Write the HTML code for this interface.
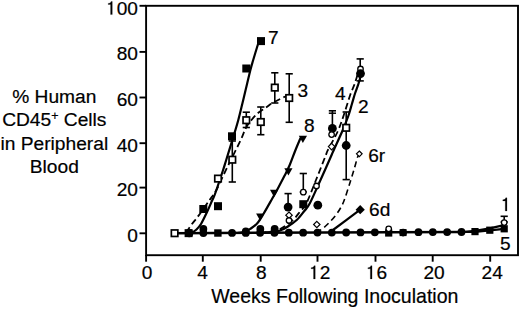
<!DOCTYPE html>
<html><head><meta charset="utf-8"><style>
html,body{margin:0;padding:0;background:#fff;}
svg{display:block;font-family:"Liberation Sans",sans-serif;}
</style></head><body>
<svg width="520" height="309" viewBox="0 0 520 309">
<rect width="520" height="309" fill="#fff"/>
<rect x="146.1" y="5.8" width="371.9" height="249.4" fill="none" stroke="#000" stroke-width="1.9"/>
<line x1="139.5" y1="233.30" x2="146" y2="233.30" stroke="#000" stroke-width="1.9"/>
<text transform="translate(138.00,241.60) scale(1.028,1)" text-anchor="end" font-size="18.6" stroke="#000" stroke-width="0.2">0</text>
<line x1="139.5" y1="187.60" x2="146" y2="187.60" stroke="#000" stroke-width="1.9"/>
<text transform="translate(138.00,195.90) scale(1.028,1)" text-anchor="end" font-size="18.6" stroke="#000" stroke-width="0.2">20</text>
<line x1="139.5" y1="143.20" x2="146" y2="143.20" stroke="#000" stroke-width="1.9"/>
<text transform="translate(138.00,151.50) scale(1.028,1)" text-anchor="end" font-size="18.6" stroke="#000" stroke-width="0.2">40</text>
<line x1="139.5" y1="97.50" x2="146" y2="97.50" stroke="#000" stroke-width="1.9"/>
<text transform="translate(138.00,105.80) scale(1.028,1)" text-anchor="end" font-size="18.6" stroke="#000" stroke-width="0.2">60</text>
<line x1="139.5" y1="51.90" x2="146" y2="51.90" stroke="#000" stroke-width="1.9"/>
<text transform="translate(138.00,60.20) scale(1.028,1)" text-anchor="end" font-size="18.6" stroke="#000" stroke-width="0.2">80</text>
<line x1="139.5" y1="5.80" x2="146" y2="5.80" stroke="#000" stroke-width="1.9"/>
<path transform="translate(106.11,14.60) scale(0.01912,-0.01860)" d="M233 0 L323 0 L323 709 L258 709 C247 652 212 612 105 603 L105 543 L233 543 Z" fill="#000" stroke="#000" stroke-width="10.8"/>
<text transform="translate(116.74,14.60) scale(1.028,1)" text-anchor="start" font-size="18.6" stroke="#000" stroke-width="0.2">00</text>
<line x1="146.10" y1="255" x2="146.10" y2="261.7" stroke="#000" stroke-width="1.9"/>
<text transform="translate(147.10,278.90) scale(1.028,1)" text-anchor="middle" font-size="18.6" stroke="#000" stroke-width="0.2">0</text>
<line x1="202.80" y1="255" x2="202.80" y2="261.7" stroke="#000" stroke-width="1.9"/>
<text transform="translate(202.60,278.90) scale(1.028,1)" text-anchor="middle" font-size="18.6" stroke="#000" stroke-width="0.2">4</text>
<line x1="260.70" y1="255" x2="260.70" y2="261.7" stroke="#000" stroke-width="1.9"/>
<text transform="translate(261.20,278.90) scale(1.028,1)" text-anchor="middle" font-size="18.6" stroke="#000" stroke-width="0.2">8</text>
<line x1="317.50" y1="255" x2="317.50" y2="261.7" stroke="#000" stroke-width="1.9"/>
<path transform="translate(309.07,278.90) scale(0.01912,-0.01860)" d="M233 0 L323 0 L323 709 L258 709 C247 652 212 612 105 603 L105 543 L233 543 Z" fill="#000" stroke="#000" stroke-width="10.8"/>
<text transform="translate(319.70,278.90) scale(1.028,1)" text-anchor="start" font-size="18.6" stroke="#000" stroke-width="0.2">2</text>
<line x1="375.50" y1="255" x2="375.50" y2="261.7" stroke="#000" stroke-width="1.9"/>
<path transform="translate(365.87,278.90) scale(0.01912,-0.01860)" d="M233 0 L323 0 L323 709 L258 709 C247 652 212 612 105 603 L105 543 L233 543 Z" fill="#000" stroke="#000" stroke-width="10.8"/>
<text transform="translate(376.50,278.90) scale(1.028,1)" text-anchor="start" font-size="18.6" stroke="#000" stroke-width="0.2">6</text>
<line x1="432.70" y1="255" x2="432.70" y2="261.7" stroke="#000" stroke-width="1.9"/>
<text transform="translate(434.10,278.90) scale(1.028,1)" text-anchor="middle" font-size="18.6" stroke="#000" stroke-width="0.2">20</text>
<line x1="490.20" y1="255" x2="490.20" y2="261.7" stroke="#000" stroke-width="1.9"/>
<text transform="translate(492.20,278.90) scale(1.028,1)" text-anchor="middle" font-size="18.6" stroke="#000" stroke-width="0.2">24</text>
<text transform="translate(211.20,303.20) scale(0.968,1)" text-anchor="start" font-size="20.2" stroke="#000" stroke-width="0.2">Weeks Following Inoculation</text>
<text transform="translate(54.30,103.10) scale(1.0,1)" text-anchor="middle" font-size="19.2" stroke="#000" stroke-width="0.2">% Human</text>
<text transform="translate(54.30,126.45) scale(1.0,1)" text-anchor="middle" font-size="19.2" stroke="#000" stroke-width="0.2">CD45<tspan font-size="12.4" dy="-6.0">+</tspan><tspan dy="6.0"> Cells</tspan></text>
<text transform="translate(54.30,149.80) scale(1.0,1)" text-anchor="middle" font-size="19.2" stroke="#000" stroke-width="0.2">in Peripheral</text>
<text transform="translate(54.30,173.15) scale(1.0,1)" text-anchor="middle" font-size="19.2" stroke="#000" stroke-width="0.2">Blood</text>
<line x1="174.68" y1="233.20" x2="461.48" y2="232.00" stroke="#000" stroke-width="2.5"/>
<polyline points="461.48,232.00 475,230.8 489.8,228.4 502.8,225.4" fill="none" stroke="#000" stroke-width="2.2"/>
<polyline points="461.48,232.00 475,231.8 489.8,230.4 504.2,228.8" fill="none" stroke="#000" stroke-width="2.2"/>
<path d="M191.50,233.13 C192.33,232.52 194.92,231.02 196.50,229.50 C198.08,227.98 199.28,226.83 201.00,224.00 C202.72,221.17 204.97,216.37 206.80,212.50 C208.63,208.63 210.63,203.88 212.00,200.80 C213.37,197.72 213.15,199.13 215.00,194.00 C216.85,188.87 221.23,175.67 223.10,170.00 C224.97,164.33 224.50,165.50 226.20,160.00 C227.90,154.50 231.28,143.67 233.30,137.00 C235.32,130.33 236.77,125.67 238.30,120.00 C239.83,114.33 241.28,108.00 242.50,103.00 C243.72,98.00 244.28,95.50 245.60,90.00 C246.92,84.50 249.13,75.00 250.40,70.00 C251.67,65.00 251.90,64.42 253.20,60.00 C254.50,55.58 257.37,46.25 258.20,43.50" fill="none" stroke="#000" stroke-width="2.2"/>
<path d="M186.00,232.50 C186.93,231.17 189.47,227.35 191.60,224.50 C193.73,221.65 195.90,219.35 198.80,215.40 C201.70,211.45 206.07,205.03 209.00,200.80 C211.93,196.57 213.90,194.47 216.40,190.00 C218.90,185.53 221.35,179.50 224.00,174.00 C226.65,168.50 229.57,162.53 232.30,157.00 C235.03,151.47 238.12,145.67 240.40,140.80 C242.68,135.93 244.12,131.32 246.00,127.80 C247.88,124.28 249.70,122.17 251.70,119.70 C253.70,117.23 255.63,115.00 258.00,113.00 C260.37,111.00 263.37,109.45 265.90,107.70 C268.43,105.95 270.03,104.33 273.20,102.50 C276.37,100.67 282.18,97.95 284.90,96.70 C287.62,95.45 288.73,95.28 289.50,95.00" fill="none" stroke="#000" stroke-width="1.8" stroke-dasharray="6.5,3.5"/>
<path d="M238.50,232.93 C239.50,232.74 242.53,232.47 244.50,231.80 C246.47,231.13 248.17,230.33 250.30,228.90 C252.43,227.47 255.08,225.73 257.30,223.20 C259.52,220.67 261.15,217.73 263.60,213.70 C266.05,209.67 269.53,203.38 272.00,199.00 C274.47,194.62 276.32,191.27 278.40,187.40 C280.48,183.53 282.63,179.48 284.50,175.80 C286.37,172.12 287.77,169.60 289.60,165.30 C291.43,161.00 293.67,154.58 295.50,150.00 C297.33,145.42 299.75,139.83 300.60,137.80" fill="none" stroke="#000" stroke-width="2.2"/>
<path d="M264.00,232.83 C266.58,232.47 275.47,231.79 279.50,230.70 C283.53,229.61 285.28,228.12 288.20,226.30 C291.12,224.48 294.32,222.35 297.00,219.80 C299.68,217.25 302.18,213.70 304.30,211.00 C306.42,208.30 307.00,208.77 309.70,203.60 C312.40,198.43 316.85,188.10 320.50,180.00 C324.15,171.90 329.38,160.00 331.60,155.00 C333.82,150.00 331.93,154.17 333.80,150.00 C335.67,145.83 340.38,135.67 342.80,130.00 C345.22,124.33 346.78,120.33 348.30,116.00 C349.82,111.67 350.78,107.75 351.90,104.00 C353.02,100.25 353.92,96.83 355.00,93.50 C356.08,90.17 357.40,87.08 358.40,84.00 C359.40,80.92 360.57,76.50 361.00,75.00" fill="none" stroke="#000" stroke-width="2.2"/>
<path d="M260.00,232.84 C262.67,232.49 271.87,231.79 276.00,230.70 C280.13,229.61 281.88,228.17 284.80,226.30 C287.72,224.43 290.88,222.05 293.50,219.50 C296.12,216.95 298.37,213.65 300.50,211.00 C302.63,208.35 303.72,208.77 306.30,203.60 C308.88,198.43 312.73,188.10 316.00,180.00 C319.27,171.90 323.92,160.00 325.90,155.00 C327.88,150.00 325.93,153.92 327.90,150.00 C329.87,146.08 335.05,137.33 337.70,131.50 C340.35,125.67 341.72,121.08 343.80,115.00 C345.88,108.92 348.40,100.17 350.20,95.00 C352.00,89.83 353.25,87.83 354.60,84.00 C355.95,80.17 357.68,74.00 358.30,72.00" fill="none" stroke="#000" stroke-width="1.8" stroke-dasharray="6.5,3.5"/>
<path d="M316.00,232.61 C317.00,232.01 320.03,230.43 322.00,229.00 C323.97,227.57 325.55,226.25 327.80,224.00 C330.05,221.75 333.23,218.42 335.50,215.50 C337.77,212.58 339.82,209.42 341.40,206.50 C342.98,203.58 343.48,202.25 345.00,198.00 C346.52,193.75 348.92,186.00 350.50,181.00 C352.08,176.00 353.35,171.90 354.50,168.00 C355.65,164.10 356.60,159.97 357.40,157.60 C358.20,155.23 358.98,154.43 359.30,153.80" fill="none" stroke="#000" stroke-width="1.6" stroke-dasharray="6,3.8"/>
<path d="M332.30,230.50 C336.95,227.03 355.55,213.17 360.20,209.70" fill="none" stroke="#000" stroke-width="2.2"/>
<line x1="232.30" y1="141.00" x2="232.30" y2="182.00" stroke="#000" stroke-width="1.6"/>
<line x1="228.70" y1="141.00" x2="235.90" y2="141.00" stroke="#000" stroke-width="1.6"/>
<line x1="228.70" y1="182.00" x2="235.90" y2="182.00" stroke="#000" stroke-width="1.6"/>
<line x1="246.30" y1="112.20" x2="246.30" y2="127.50" stroke="#000" stroke-width="1.6"/>
<line x1="242.70" y1="112.20" x2="249.90" y2="112.20" stroke="#000" stroke-width="1.6"/>
<line x1="242.70" y1="127.50" x2="249.90" y2="127.50" stroke="#000" stroke-width="1.6"/>
<line x1="260.80" y1="107.00" x2="260.80" y2="134.70" stroke="#000" stroke-width="1.6"/>
<line x1="257.20" y1="107.00" x2="264.40" y2="107.00" stroke="#000" stroke-width="1.6"/>
<line x1="257.20" y1="134.70" x2="264.40" y2="134.70" stroke="#000" stroke-width="1.6"/>
<line x1="274.80" y1="72.80" x2="274.80" y2="103.00" stroke="#000" stroke-width="1.6"/>
<line x1="271.20" y1="72.80" x2="278.40" y2="72.80" stroke="#000" stroke-width="1.6"/>
<line x1="271.20" y1="103.00" x2="278.40" y2="103.00" stroke="#000" stroke-width="1.6"/>
<line x1="289.20" y1="73.80" x2="289.20" y2="122.30" stroke="#000" stroke-width="1.6"/>
<line x1="285.60" y1="73.80" x2="292.80" y2="73.80" stroke="#000" stroke-width="1.6"/>
<line x1="285.60" y1="122.30" x2="292.80" y2="122.30" stroke="#000" stroke-width="1.6"/>
<line x1="288.10" y1="193.60" x2="288.10" y2="207.00" stroke="#000" stroke-width="1.6"/>
<line x1="284.50" y1="193.60" x2="291.70" y2="193.60" stroke="#000" stroke-width="1.6"/>
<line x1="284.50" y1="207.00" x2="291.70" y2="207.00" stroke="#000" stroke-width="1.6"/>
<line x1="303.30" y1="173.50" x2="303.30" y2="192.00" stroke="#000" stroke-width="1.6"/>
<line x1="299.70" y1="173.50" x2="306.90" y2="173.50" stroke="#000" stroke-width="1.6"/>
<line x1="299.70" y1="192.00" x2="306.90" y2="192.00" stroke="#000" stroke-width="1.6"/>
<line x1="332.40" y1="110.80" x2="332.40" y2="128.00" stroke="#000" stroke-width="1.6"/>
<line x1="328.80" y1="110.80" x2="336.00" y2="110.80" stroke="#000" stroke-width="1.6"/>
<line x1="328.80" y1="128.00" x2="336.00" y2="128.00" stroke="#000" stroke-width="1.6"/>
<line x1="328.8" y1="113.2" x2="336" y2="113.2" stroke="#000" stroke-width="1.5"/>
<line x1="346.20" y1="112.00" x2="346.20" y2="179.60" stroke="#000" stroke-width="1.6"/>
<line x1="342.60" y1="112.00" x2="349.80" y2="112.00" stroke="#000" stroke-width="1.6"/>
<line x1="342.60" y1="179.60" x2="349.80" y2="179.60" stroke="#000" stroke-width="1.6"/>
<line x1="360.20" y1="58.90" x2="360.20" y2="80.90" stroke="#000" stroke-width="1.6"/>
<line x1="356.60" y1="58.90" x2="363.80" y2="58.90" stroke="#000" stroke-width="1.6"/>
<line x1="356.60" y1="80.90" x2="363.80" y2="80.90" stroke="#000" stroke-width="1.6"/>
<line x1="504.20" y1="216.30" x2="504.20" y2="222.00" stroke="#000" stroke-width="1.6"/>
<line x1="500.60" y1="216.30" x2="507.80" y2="216.30" stroke="#000" stroke-width="1.6"/>
<line x1="500.60" y1="222.00" x2="507.80" y2="222.00" stroke="#000" stroke-width="1.6"/>
<circle cx="203.36" cy="233.08" r="3.9" fill="#000"/>
<circle cx="232.04" cy="232.96" r="3.9" fill="#000"/>
<circle cx="245.78" cy="232.90" r="3.9" fill="#000"/>
<circle cx="260.12" cy="232.84" r="3.9" fill="#000"/>
<circle cx="274.46" cy="232.78" r="3.9" fill="#000"/>
<circle cx="288.80" cy="232.72" r="3.9" fill="#000"/>
<circle cx="303.14" cy="232.66" r="3.9" fill="#000"/>
<circle cx="317.48" cy="232.60" r="3.9" fill="#000"/>
<circle cx="331.82" cy="232.54" r="3.9" fill="#000"/>
<circle cx="346.16" cy="232.48" r="3.9" fill="#000"/>
<circle cx="360.50" cy="232.42" r="3.9" fill="#000"/>
<circle cx="374.84" cy="232.36" r="3.9" fill="#000"/>
<circle cx="418.46" cy="232.18" r="3.9" fill="#000"/>
<circle cx="432.80" cy="232.12" r="3.9" fill="#000"/>
<circle cx="447.14" cy="232.06" r="3.9" fill="#000"/>
<circle cx="461.48" cy="232.00" r="3.9" fill="#000"/>
<circle cx="203.36" cy="229.00" r="3.9" fill="#000"/>
<circle cx="260.32" cy="229.00" r="3.9" fill="#000"/>
<circle cx="274.66" cy="229.00" r="3.9" fill="#000"/>
<circle cx="245.78" cy="231.30" r="3.9" fill="#000"/>
<rect x="184.60" y="229.14" width="8.0" height="8.0" fill="#000"/>
<circle cx="189.20" cy="233.14" r="4.1" fill="#000"/>
<rect x="214.20" y="229.32" width="7.4" height="7.4" fill="#000"/>
<rect x="385.10" y="229.40" width="7.2" height="7.2" fill="#000"/>
<rect x="399.60" y="229.10" width="7.0" height="7.0" fill="#000"/>
<circle cx="403.10" cy="232.60" r="3.8" fill="#000"/>
<rect x="471.40" y="228.00" width="7.2" height="7.2" fill="#000"/>
<rect x="486.20" y="226.60" width="7.2" height="7.2" fill="#000"/>
<rect x="500.60" y="225.20" width="7.2" height="7.2" fill="#000"/>
<rect x="171.35" y="229.95" width="6.50" height="6.50" fill="#fff" stroke="#000" stroke-width="1.7"/>
<circle cx="388.70" cy="228.80" r="2.75" fill="#fff" stroke="#000" stroke-width="1.3"/>
<circle cx="504.20" cy="222.60" r="2.75" fill="#fff" stroke="#000" stroke-width="1.3"/>
<rect x="199.30" y="205.00" width="8.0" height="8.0" fill="#000"/>
<rect x="214.00" y="202.20" width="8.0" height="8.0" fill="#000"/>
<rect x="228.00" y="132.30" width="8.0" height="8.0" fill="#000"/>
<rect x="242.30" y="64.50" width="8.0" height="8.0" fill="#000"/>
<rect x="257.00" y="37.10" width="8.0" height="8.0" fill="#000"/>
<rect x="214.75" y="175.35" width="6.50" height="6.50" fill="#fff" stroke="#000" stroke-width="1.7"/>
<rect x="229.05" y="156.45" width="6.50" height="6.50" fill="#fff" stroke="#000" stroke-width="1.7"/>
<rect x="243.05" y="116.95" width="6.50" height="6.50" fill="#fff" stroke="#000" stroke-width="1.7"/>
<rect x="257.55" y="118.75" width="6.50" height="6.50" fill="#fff" stroke="#000" stroke-width="1.7"/>
<rect x="271.55" y="84.35" width="6.50" height="6.50" fill="#fff" stroke="#000" stroke-width="1.7"/>
<rect x="285.95" y="94.75" width="6.50" height="6.50" fill="#fff" stroke="#000" stroke-width="1.7"/>
<path d="M256.10,213.49 L264.30,213.49 L260.20,220.71 Z" fill="#000"/>
<path d="M270.00,189.69 L278.20,189.69 L274.10,196.91 Z" fill="#000"/>
<path d="M284.30,168.29 L292.50,168.29 L288.40,175.51 Z" fill="#000"/>
<path d="M298.80,135.79 L307.00,135.79 L302.90,143.01 Z" fill="#000"/>
<circle cx="288.10" cy="207.10" r="4.4" fill="#000"/>
<path d="M289.00,212.00 L292.20,215.20 L289.00,218.40 L285.80,215.20 Z" fill="#fff" stroke="#000" stroke-width="1.2"/>
<circle cx="289.00" cy="220.50" r="2.75" fill="#fff" stroke="#000" stroke-width="1.3"/>
<circle cx="303.30" cy="192.20" r="2.75" fill="#fff" stroke="#000" stroke-width="1.3"/>
<rect x="299.30" y="200.20" width="8.0" height="8.0" fill="#000"/>
<circle cx="317.80" cy="205.20" r="4.4" fill="#000"/>
<circle cx="316.50" cy="186.00" r="2.75" fill="#fff" stroke="#000" stroke-width="1.3"/>
<path d="M316.80,221.30 L320.00,224.50 L316.80,227.70 L313.60,224.50 Z" fill="#fff" stroke="#000" stroke-width="1.2"/>
<circle cx="332.40" cy="128.40" r="4.4" fill="#000"/>
<circle cx="331.60" cy="134.60" r="2.75" fill="#fff" stroke="#000" stroke-width="1.3"/>
<path d="M331.60,143.40 L334.80,146.60 L331.60,149.80 L328.40,146.60 Z" fill="#fff" stroke="#000" stroke-width="1.2"/>
<rect x="342.95" y="124.55" width="6.50" height="6.50" fill="#fff" stroke="#000" stroke-width="1.7"/>
<circle cx="346.20" cy="145.50" r="4.4" fill="#000"/>
<circle cx="360.50" cy="69.00" r="2.75" fill="#fff" stroke="#000" stroke-width="1.3"/>
<circle cx="360.50" cy="73.60" r="4.4" fill="#000"/>
<path d="M359.30,151.00 L362.10,153.80 L359.30,156.60 L356.50,153.80 Z" fill="#fff" stroke="#000" stroke-width="1.2"/>
<path d="M360.20,205.10 L364.80,209.70 L360.20,214.30 L355.60,209.70 Z" fill="#000"/>
<text transform="translate(268.00,44.40) scale(1.028,1)" text-anchor="start" font-size="18.6" stroke="#000" stroke-width="0.2">7</text>
<text transform="translate(297.60,97.10) scale(1.028,1)" text-anchor="start" font-size="18.6" stroke="#000" stroke-width="0.2">3</text>
<text transform="translate(304.00,131.50) scale(1.028,1)" text-anchor="start" font-size="18.6" stroke="#000" stroke-width="0.2">8</text>
<text transform="translate(334.90,100.20) scale(1.028,1)" text-anchor="start" font-size="18.6" stroke="#000" stroke-width="0.2">4</text>
<text transform="translate(358.00,112.50) scale(1.028,1)" text-anchor="start" font-size="18.6" stroke="#000" stroke-width="0.2">2</text>
<text transform="translate(368.20,162.40) scale(1.028,1)" text-anchor="start" font-size="18.6" stroke="#000" stroke-width="0.2">6r</text>
<text transform="translate(369.00,215.70) scale(1.028,1)" text-anchor="start" font-size="18.6" stroke="#000" stroke-width="0.2">6d</text>
<path transform="translate(500.80,211.00) scale(0.01912,-0.01860)" d="M233 0 L323 0 L323 709 L258 709 C247 652 212 612 105 603 L105 543 L233 543 Z" fill="#000" stroke="#000" stroke-width="10.8"/>
<text transform="translate(500.00,249.80) scale(1.028,1)" text-anchor="start" font-size="18.6" stroke="#000" stroke-width="0.2">5</text>
</svg>
</body></html>
